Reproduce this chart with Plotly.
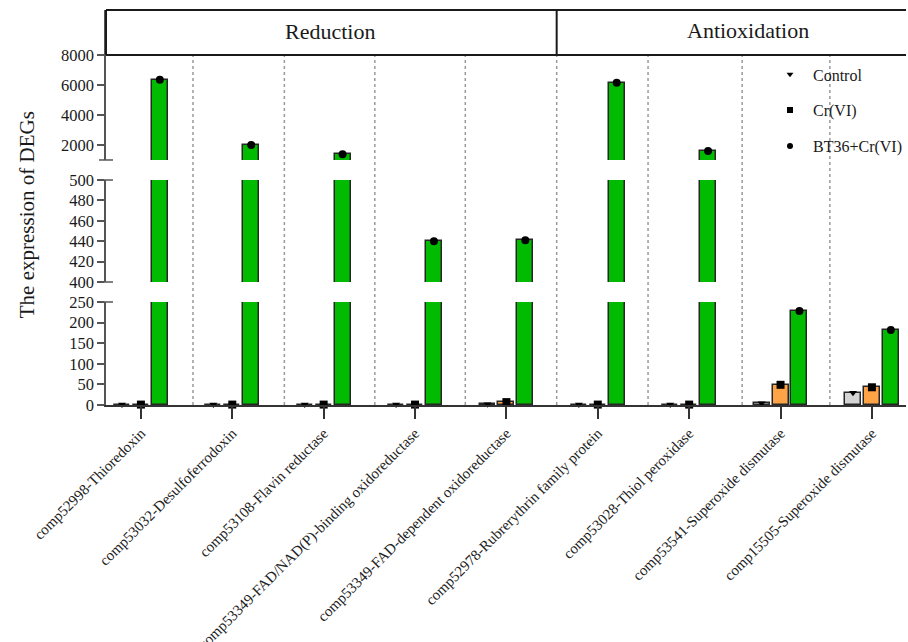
import numpy as np
import plotly.graph_objects as go

# ---- data -------------------------------------------------------------
categories = [
    "comp52998-Thioredoxin",
    "comp53032-Desulfoferrodoxin",
    "comp53108-Flavin reductase",
    "comp53349-FAD/NAD(P)-binding oxidoreductase",
    "comp53349-FAD-dependent oxidoreductase",
    "comp52978-Rubrerythrin family protein",
    "comp53028-Thiol peroxidase",
    "comp53541-Superoxide dismutase",
    "comp15505-Superoxide dismutase",
]
control = [1, 1, 1, 1, 2, 1, 1, 4, 30]
cr6 = [1, 1, 1, 1, 7, 1, 1, 49, 43]
bt36_cr6 = [6350, 2000, 1380, 440, 441, 6150, 1600, 228, 182]

groups = ["Reduction", "Antioxidation"]
group_sizes = [5, 4]

series_names = ["Control", "Cr(VI)", "BT36+Cr(VI)"]
series_values = [control, cr6, bt36_cr6]

y_ticks_low = [0, 50, 100, 150, 200, 250]
y_ticks_mid = [400, 420, 440, 460, 480, 500]
y_ticks_top = [2000, 4000, 6000, 8000]

# ---- styling -----------------------------------------------------------
SERIF = "Liberation Serif"
fills = ["#d4d4d4", "#ffa347", "#00bb00"]
symbols = ["triangle-down", "square", "circle"]
sizes = [7, 8, 8]
offsets = [-0.207, 0.0, 0.207]
bar_w = 0.175

# broken axis: (axis name, range, domain, tick values)
segments = [
    ("y", [0, 250], [0.0, 0.2608], y_ticks_low),
    ("y2", [400, 500], [0.3114, 0.5696], y_ticks_mid),
    ("y3", [1000, 11000], [0.6203, 1.0], y_ticks_top),
]

idx = np.arange(len(categories))
fig = go.Figure()

for ax, rng, dom, _ in segments:
    for s, vals in enumerate(series_values):
        fig.add_trace(go.Bar(
            x=idx + offsets[s], y=vals, width=bar_w,
            marker=dict(color=fills[s], line=dict(color="#262626", width=1.5)),
            xaxis="x", yaxis=ax, showlegend=False, hoverinfo="skip",
        ))
    for s, vals in enumerate(series_values):
        inside = [v if rng[0] <= v <= rng[1] else None for v in vals]
        fig.add_trace(go.Scatter(
            x=idx + offsets[s], y=inside, mode="markers",
            marker=dict(symbol=symbols[s], size=sizes[s], color="black"),
            xaxis="x", yaxis=ax, showlegend=False, cliponaxis=False,
            hoverinfo="skip",
        ))

# legend entries
for s, name in enumerate(series_names):
    fig.add_trace(go.Scatter(
        x=[None], y=[None], mode="markers", name=name,
        legendgroup=name,
        marker=dict(symbol=symbols[s], size=6, color="black"),
        xaxis="x", yaxis="y3",
    ))

axis_font = dict(family=SERIF, size=16.5, color="#1a1a1a")
common_y = dict(
    showline=True, linecolor="#555555", linewidth=1.5,
    ticks="outside", ticklen=7, tickwidth=1.5, tickcolor="#555555",
    showgrid=False, zeroline=False, tickfont=axis_font, anchor="x",
    automargin=False,
)

layout_axes = {}
for ax, rng, dom, tv in segments:
    key = "yaxis" if ax == "y" else "yaxis" + ax[1:]
    layout_axes[key] = dict(common_y, range=rng, domain=dom, tickvals=tv)

shapes = []
# caps at the ends of the broken axis segments
for y0 in [0.2608, 0.3114, 0.5696, 0.6203]:
    shapes.append(dict(
        type="line", xref="paper", yref="paper", xsizemode="pixel", xanchor=0,
        x0=-7, x1=7, y0=y0, y1=y0, line=dict(color="#555555", width=1.5),
    ))

# dotted separators between genes, header divider between the two groups
sep_positions = [0.57, 1.57, 2.56, 3.55, 4.55, 5.55, 6.58, 7.54]
header_bottom = 0.886
for xs in sep_positions:
    shapes.append(dict(
        type="line", xref="x", yref="paper", x0=xs, x1=xs, y0=0, y1=header_bottom,
        line=dict(color="#9a9a9a", width=1.5, dash="dot"),
    ))
divider = sep_positions[group_sizes[0] - 1]
shapes += [
    dict(type="line", xref="paper", yref="paper", x0=0, x1=1, y0=1, y1=1,
         line=dict(color="#1a1a1a", width=2)),
    dict(type="line", xref="paper", yref="paper", x0=0, x1=1,
         y0=header_bottom, y1=header_bottom, line=dict(color="#1a1a1a", width=2)),
    dict(type="line", xref="paper", yref="paper", x0=0, x1=0,
         y0=header_bottom, y1=1, line=dict(color="#1a1a1a", width=2)),
    dict(type="line", xref="x", yref="paper", x0=divider, x1=divider,
         y0=header_bottom, y1=1, line=dict(color="#1a1a1a", width=2)),
]

header_font = dict(family=SERIF, size=22, color="#1a1a1a")
annotations = [
    dict(text=groups[0], xref="paper", yref="paper", x=0.2805, y=0.945,
         xanchor="center", yanchor="middle", showarrow=False, font=header_font),
    dict(text=groups[1], xref="paper", yref="paper", x=0.803, y=0.947,
         xanchor="center", yanchor="middle", showarrow=False, font=header_font),
    dict(text="The expression of DEGs", xref="paper", yref="paper",
         x=-0.0985, y=0.481, xanchor="center", yanchor="middle",
         textangle=-90, showarrow=False,
         font=dict(family=SERIF, size=21, color="#1a1a1a")),
]

fig.update_layout(
    width=908, height=642,
    margin=dict(l=106, r=0, t=10, b=237),
    plot_bgcolor="white", paper_bgcolor="white",
    barmode="overlay", bargap=0,
    xaxis=dict(
        range=[-0.382, 8.373], tickvals=list(idx), ticktext=categories,
        tickangle=-45, ticks="outside", ticklen=12, tickwidth=1.5,
        tickcolor="#333333", showline=True, linecolor="#333333", linewidth=1.5,
        showgrid=False, zeroline=False, anchor="y", automargin=False,
        tickfont=dict(family=SERIF, size=15, color="#222222"),
    ),
    **layout_axes,
    shapes=shapes,
    annotations=annotations,
    legend=dict(
        x=0.8267, y=0.88, xanchor="left", yanchor="top",
        font=dict(family=SERIF, size=16, color="#1a1a1a"),
        tracegroupgap=12, itemwidth=36, bgcolor="rgba(0,0,0,0)",
    ),
    showlegend=True,
)

fig.write_html("out.html")
